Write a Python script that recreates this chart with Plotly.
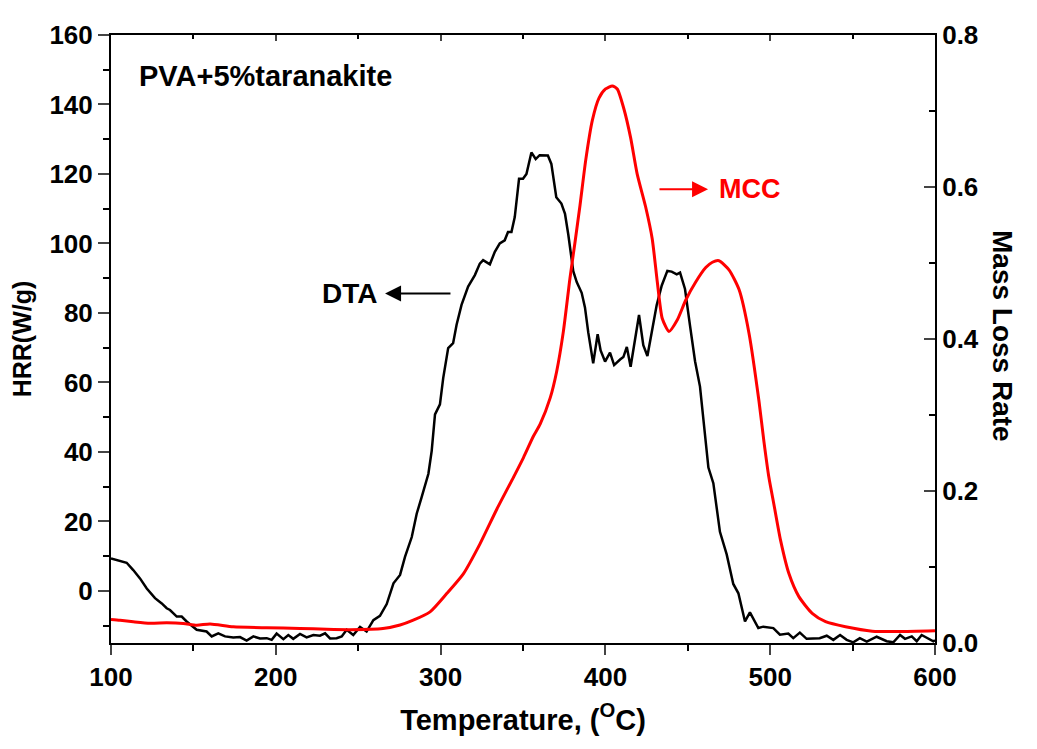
import plotly.graph_objects as go

# DTA (HRR, left axis)
dta_x = [100, 109.5, 113.5, 117.6, 121.7, 126.7, 130.8, 133.8, 135.8, 139.9, 142.9, 145.9, 152, 158, 161.1,
         165.1, 169.2, 174.2, 178.3, 182.3, 186.4, 190.4, 194.5, 197.5, 200.5, 204.6, 207.6, 210.6, 214.7,
         218.7, 222.8, 226.8, 229.9, 232.9, 236.9, 240, 243, 247, 251.1, 255.1, 259.2, 263.2, 267.3, 271.4,
         275.4, 278.4, 282.5, 285.5, 288.5, 292.6, 294.6, 296.6, 299.6, 301.6, 304.6, 307.6, 309.7, 312.7,
         316.7, 320.8, 323.8, 325.8, 329.9, 332.9, 335.9, 338.9, 340.9, 343, 345, 347.6, 350, 352.1, 355.1,
         357.7, 360.1, 365.1, 367.2, 370.2, 373.3, 375.5, 377.5, 380.5, 382.6, 385.6, 387.6, 389.6, 392.6,
         395.3, 397.1, 399.8, 402.8, 405.3, 408.9, 410.9, 413, 415.3, 420.4, 423, 425.5, 428.1, 431.1, 434.2,
         437.6, 440.2, 443.3, 445.3, 448.3, 451.3, 454.4, 457.4, 460.4, 462.5, 465.5, 467.5, 469.5, 473.6,
         477.6, 480.7, 484.7, 487.7, 492.8, 495.8, 501.9, 505.9, 511, 514, 518, 522.1, 530, 534.3, 538.3,
         542.4, 546.4, 550.4, 554.4, 558.6, 564.6, 570.7, 574.7, 578.8, 581.8, 585.9, 588.9, 591.9, 595.9,
         599, 600]
dta_y = [9.3, 8.1, 6.0, 3.6, 0.7, -2.1, -3.6, -5.0, -5.5, -7.4, -7.4, -8.8, -11.2, -11.7, -13.1,
         -12.2, -13.1, -13.4, -13.3, -14.3, -13.1, -13.7, -13.6, -14.1, -12.3, -13.9, -12.7, -13.8, -12.4,
         -13.4, -12.7, -12.9, -12.2, -13.7, -13.6, -13.1, -11.2, -12.7, -10.4, -11.7, -8.4, -7.2, -3.8, 2.2,
         4.6, 9.8, 15.5, 22.2, 27.0, 33.7, 40.3, 50.8, 53.7, 61.3, 69.9, 71.3, 76.6, 82.3,
         87.6, 90.9, 94.2, 95.2, 94.0, 97.6, 100.0, 100.9, 103.3, 103.3, 107.6, 118.6, 118.6, 120.0, 126.2,
         124.3, 125.4, 125.3, 122.9, 113.3, 111.5, 108.5, 102.5, 92.0, 88.9, 85.8, 81.6, 74.4, 65.5,
         73.9, 69.2, 66.0, 68.6, 65.0, 66.6, 67.3, 70.2, 64.5, 79.4, 70.7, 67.6, 73.9, 82.2, 87.9,
         92.1, 91.9, 91.1, 91.6, 86.9, 76.5, 66.1, 58.8, 45.0, 35.5, 31.0, 24.0, 17.0, 10.5,
         2.0, -0.7, -8.8, -6.2, -10.7, -10.3, -10.7, -12.6, -12.3, -13.6, -12.0, -13.8, -13.6, -12.9, -14.1,
         -12.7, -14.1, -14.8, -13.6, -14.6, -13.2, -14.5, -14.8, -12.7, -13.8, -13.1, -14.5, -12.7, -13.6,
         -14.5, -14.2]

# MCC (mass loss rate, right axis)
mcc_x = [100, 105.5, 113.5, 123.7, 133.8, 143.9, 152, 160.1, 174.2, 194.5, 214.7, 230.9, 245, 265, 275.4,
         283.4, 293.6, 303.7, 313.8, 323.9, 334.1, 344.2, 350.3, 356.3, 360.4, 366.5, 370.4, 374.5, 378.5,
         381.6, 384.6, 388.1, 392.1, 396.1, 400.1, 404.2, 407.2, 411.2, 415.3, 419.3, 424.4, 428.4, 431.5,
         434.5, 438.6, 443.6, 448.7, 454.8, 460.9, 464.9, 468.9, 475, 481.1, 487.1, 493.2, 496.2, 499.2,
         502.2, 506.3, 511.4, 517.4, 525.5, 533.6, 545.7, 561.9, 578.2, 600]
mcc_y = [0.031, 0.030, 0.028, 0.026, 0.0266, 0.0258, 0.0235, 0.025, 0.0213, 0.020, 0.0192, 0.018, 0.0175,
         0.019, 0.0236, 0.030, 0.041, 0.065, 0.091, 0.1305, 0.176, 0.218, 0.244, 0.272, 0.288, 0.3225,
         0.357, 0.41, 0.48, 0.528, 0.576, 0.636, 0.688, 0.717, 0.729, 0.733, 0.729, 0.703, 0.665, 0.617,
         0.574, 0.532, 0.475, 0.427, 0.41, 0.425, 0.451, 0.475, 0.494, 0.501, 0.503, 0.491, 0.465, 0.408,
         0.318, 0.265, 0.218, 0.183, 0.135, 0.091, 0.061, 0.039, 0.028, 0.0213, 0.0155, 0.015, 0.016]

x_ticks = [100, 200, 300, 400, 500, 600]
left_ticks = [0, 20, 40, 60, 80, 100, 120, 140, 160]
right_ticks = [0.0, 0.2, 0.4, 0.6, 0.8]
right_labels = ["0.0", "0.2", "0.4", "0.6", "0.8"]

FONT = "Arial, 'Liberation Sans', sans-serif"
tickfont = dict(family=FONT, size=26, color="black", weight="bold")

W, H = 1029, 741
ML, MR, MT, MB = 103, 102, 24, 106

fig = go.Figure()
fig.add_trace(go.Scatter(x=dta_x, y=dta_y, mode="lines", line=dict(color="black", width=2.5),
                         showlegend=False, xaxis="x", yaxis="y"))
fig.add_trace(go.Scatter(x=mcc_x, y=mcc_y, mode="lines",
                         line=dict(color="#ff0000", width=3, shape="spline", smoothing=0.6),
                         showlegend=False, xaxis="x", yaxis="y2"))

fig.update_layout(
    width=W, height=H,
    margin=dict(l=ML, r=MR, t=MT, b=MB),
    plot_bgcolor="white", paper_bgcolor="white",
    xaxis=dict(range=[100, 600], tickvals=x_ticks, ticks="outside", ticklen=10, tickwidth=2,
               showline=True, linewidth=2, linecolor="black", showgrid=False, zeroline=False,
               tickfont=tickfont,
               minor=dict(dtick=50, ticks="outside", ticklen=6, tickwidth=2, tickcolor="black", showgrid=False),
               title=dict(text="Temperature, (<sup>O</sup>C)",
                          font=dict(family=FONT, size=29, color="black", weight="bold"), standoff=18)),
    xaxis2=dict(range=[100, 600], overlaying="x", side="top", showticklabels=False, ticks="inside",
                tickvals=x_ticks, ticklen=6, tickwidth=2, showline=True, linewidth=2, linecolor="black",
                showgrid=False, zeroline=False,
                minor=dict(dtick=50, ticks="inside", ticklen=4, tickwidth=2, tickcolor="black")),
    yaxis=dict(range=[-15, 160], tickvals=left_ticks, ticks="outside", ticklen=11, tickwidth=2,
               showline=True, linewidth=2, linecolor="black", showgrid=False, zeroline=False,
               tickfont=tickfont,
               minor=dict(dtick=10, tick0=0, ticks="outside", ticklen=6, tickwidth=2, tickcolor="black",
                          showgrid=False),
               title=dict(text="HRR(W/g)", font=dict(family=FONT, size=25, color="black", weight="bold"),
                          standoff=12)),
    yaxis2=dict(range=[0, 0.8], overlaying="y", side="right", tickvals=right_ticks, ticktext=right_labels,
                ticks="inside", ticklen=11, tickwidth=2, showline=True, linewidth=2, linecolor="black",
                showgrid=False, zeroline=False, tickfont=tickfont,
                minor=dict(dtick=0.1, ticks="inside", ticklen=6, tickwidth=2, tickcolor="black", showgrid=False)),
)

# invisible trace so the top axis renders
fig.add_trace(go.Scatter(x=[100], y=[-100], mode="markers", marker=dict(opacity=0), showlegend=False,
                         hoverinfo="skip", xaxis="x2", yaxis="y"))

fig.add_annotation(x=115.8, y=148.3, xref="x", yref="y", text="PVA+5%taranakite", showarrow=False,
                   xanchor="left", yanchor="middle",
                   font=dict(family=FONT, size=29, color="black", weight="bold"))
# DTA label and arrow
fig.add_annotation(x=245, y=85.6, xref="x", yref="y", text="DTA", showarrow=False,
                   xanchor="center", yanchor="middle",
                   font=dict(family=FONT, size=28, color="black", weight="bold"))
fig.add_annotation(x=266.3, y=85.6, xref="x", yref="y", ax=306.9, ay=85.6, axref="x", ayref="y",
                   text="", showarrow=True, arrowhead=2, arrowsize=1.6, arrowwidth=2, arrowcolor="black")
# MCC label and arrow
fig.add_annotation(x=487.7, y=115.6, xref="x", yref="y", text="MCC", showarrow=False,
                   xanchor="center", yanchor="middle",
                   font=dict(family=FONT, size=27, color="#ff0000", weight="bold"))
fig.add_annotation(x=462.3, y=115.6, xref="x", yref="y", ax=431.9, ay=115.6, axref="x", ayref="y",
                   text="", showarrow=True, arrowhead=2, arrowsize=1.6, arrowwidth=2, arrowcolor="#ff0000")
# Right axis title (reads top to bottom)
px_x, px_y = 1020 - 8, 335 - 8
fig.add_annotation(xref="paper", yref="paper",
                   x=(px_x - ML) / (W - ML - MR), y=1 - (px_y - MT) / (H - MT - MB),
                   text="Mass Loss Rate", showarrow=False, textangle=90,
                   font=dict(family=FONT, size=28, color="black", weight="bold"))

fig.write_html("out.html")
